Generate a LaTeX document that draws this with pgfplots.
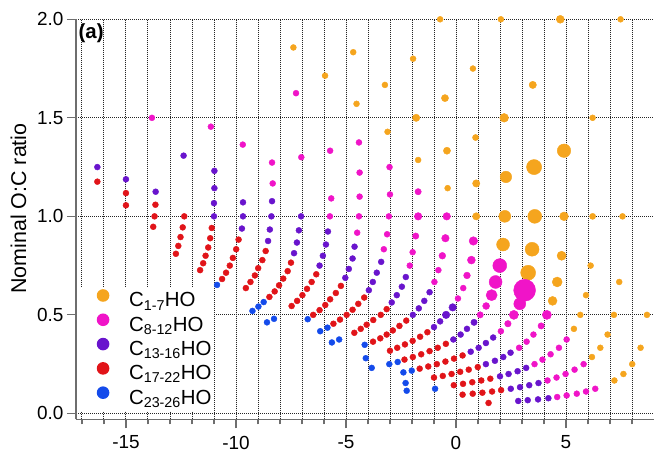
\documentclass[border=0pt]{standalone}
\usepackage{fontspec}
\setmainfont{Liberation Sans}
\usepackage{pgfplots}
\pgfplotsset{compat=1.18}
\definecolor{corange}{RGB}{245,165,30}
\definecolor{cmag}{RGB}{240,20,200}
\definecolor{cpur}{RGB}{105,20,205}
\definecolor{cred}{RGB}{225,20,25}
\definecolor{cblue}{RGB}{20,75,235}
\definecolor{axgray}{RGB}{110,110,110}
\pgfplotsset{
  dots/.style={only marks, mark=*, scatter,
    scatter/use mapped color={draw=#1,fill=#1},
    point meta=\thisrow{s},
    visualization depends on={\thisrow{s}\as\ms},
    scatter/@pre marker code/.append style={/tikz/mark size=\ms},
    forget plot},
}
\newcommand{\legdot}[1]{\addlegendimage{legend image code/.code={\path[draw=none,fill=none] (0bp,-6bp) rectangle (36bp,14bp); \fill[#1,draw=none] (25bp,7bp) circle (6.3bp);}}}
\begin{document}
\begin{tikzpicture}
\begin{axis}[
  name=ax,
  scale only axis, width=578bp, height=400bp,
  xmin=-17.27, xmax=9.0, ymin=-0.03, ymax=2.0,
  axis x line*=bottom, axis y line*=left,
  axis line style={draw=axgray, line width=1.3bp},
  xtick={-15,-10,-5,0,5}, xticklabels={-15,-10,-5,0,5},
  minor xtick={-17,-16,...,8},
  ytick={0,0.5,1,1.5,2}, yticklabels={0.0,0.5,1.0,1.5,2.0},
  tick align=outside, major tick length=9bp, minor tick length=5bp,
  every tick/.style={draw=axgray, line width=1.2bp},
  xmajorgrids, xminorgrids, ymajorgrids,
  major grid style={draw=black!85, line width=0.9bp, dash pattern=on 0.9bp off 1.1bp},
  minor grid style={draw=black!85, line width=0.9bp, dash pattern=on 0.9bp off 1.1bp},
  tick label style={font=\fontsize{19}{22}\selectfont, black},
  xticklabel style={yshift=-4bp},
  ylabel={Nominal O:C ratio},
  every axis y label/.style={at={([xshift=-57.5bp]rel axis cs:0,0.527)}, rotate=90, anchor=center, font=\fontsize{21.5}{24}\selectfont},
  clip=false,
  legend style={at={(axis cs:-17.23,0.64)}, anchor=north west, draw=none, fill=white,
    font=\fontsize{20.5}{24}\selectfont, inner sep=1bp, row sep=-0.2bp, column sep=15bp,
    nodes={inner sep=0bp, text height=15bp, text depth=6bp}},
  legend cell align=left,
]
\addplot[dots=corange] table {
x y s
8.68 0.5 3
8.39 0.333 3
8.01 0.25 3
7.61 0.2 3
7.2 0.167 3
7.48 2.0 3
7.57 1.0 3
7.42 0.667 3
7.18 0.5 3
6.89 0.4 3
6.56 0.333 3
6.18 0.286 3
6.21 1.5 3
6.21 1.0 3.1
6.12 0.75 3
5.91 0.6 3
5.65 0.5 3
5.36 0.429 3
4.74 2.0 4
4.91 1.333 6.8
4.91 1.0 4.4
4.8 0.8 4.6
4.6 0.667 5
4.39 0.571 4.5
3.49 1.667 3.7
3.55 1.25 7.6
3.58 1.0 7
3.46 0.833 7
3.28 0.714 7.5
2.04 2.0 3
2.19 1.5 4.4
2.27 1.2 5.8
2.22 1.0 6
2.14 0.857 6.5
0.77 1.75 3
0.89 1.4 3.1
0.92 1.167 3.7
0.92 1.0 3.7
-0.72 2.0 3
-0.5 1.6 3.6
-0.41 1.333 3.6
-0.38 1.143 3
-1.95 1.8 3
-1.81 1.5 3.7
-1.72 1.286 3
-3.23 1.667 3
-3.11 1.429 3
-4.67 1.833 3
-4.52 1.571 3
-5.95 1.714 3
-7.39 1.857 3
};
\addplot[dots=cmag] table {
x y s
6.33 0.125 3
5.91 0.111 3
5.49 0.1 3
5.03 0.091 3
4.6 0.083 3
5.8 0.25 3
5.39 0.222 3
4.98 0.2 3
4.57 0.182 3
4.16 0.167 3
5.03 0.375 3
4.68 0.333 3
4.3 0.3 3
3.93 0.273 3
3.57 0.25 3
4.13 0.5 4.6
3.87 0.444 3.2
3.52 0.4 3
3.21 0.364 3
2.87 0.333 3
3.12 0.625 11
2.9 0.556 6
2.63 0.5 4.6
2.36 0.455 3.3
2.04 0.417 3
1.99 0.75 7
1.8 0.667 6.5
1.62 0.6 5.6
1.37 0.545 3.5
1.1 0.5 3.2
0.79 0.875 4.3
0.7 0.778 4
0.5 0.7 3.4
0.33 0.636 3
0.09 0.583 3
-0.42 1.0 3.8
-0.48 0.889 3.8
-0.62 0.8 3.4
-0.8 0.727 3
-0.98 0.667 3
-1.72 1.125 3.2
-1.72 1.0 3.8
-1.83 0.9 3.2
-1.97 0.818 3
-2.1 0.75 3
-3.02 1.25 3
-3.0 1.111 3
-3.05 1.0 3
-3.13 0.909 3
-3.28 0.833 3
-4.41 1.375 3
-4.38 1.222 3
-4.38 1.1 3
-4.41 1.0 3
-4.49 0.917 3
-5.72 1.333 3
-5.67 1.091 3
-5.73 1.0 3
-7.27 1.625 3
-7.03 1.3 3
-8.36 1.273 3
-8.33 1.167 3
-9.69 1.364 3
-11.14 1.455 3
-13.82 1.5 3
};
\addplot[dots=cpur] table {
x y s
4.2 0.077 3
3.73 0.071 3
3.26 0.067 3
2.83 0.063 3
3.75 0.154 3
3.33 0.143 3
2.91 0.133 3
2.49 0.125 3
3.19 0.231 3
2.8 0.214 3
2.39 0.2 3
2.0 0.188 3
2.48 0.308 3
2.15 0.286 3
1.77 0.267 3
1.36 0.25 3
1.69 0.385 3
1.36 0.357 3
1.03 0.333 3
0.67 0.313 3
0.82 0.462 3.2
0.5 0.429 3
0.21 0.4 3
-0.12 0.375 3
-0.15 0.538 3.8
-0.45 0.5 3.8
-0.72 0.467 3
-1.0 0.438 3
-1.2 0.615 3
-1.44 0.571 3
-1.69 0.533 3
-1.96 0.5 3
-2.28 0.692 3
-2.46 0.643 3
-2.69 0.6 3
-2.92 0.563 3
-3.4 0.769 3
-3.6 0.714 3
-3.78 0.667 3
-3.96 0.625 3
-4.61 0.846 3
-4.7 0.786 3
-4.87 0.733 3
-5.03 0.688 3
-5.82 0.923 3
-5.91 0.857 3
-6.05 0.8 3
-6.2 0.75 3
-7.04 1.0 3
-7.14 0.929 3
-7.23 0.867 3
-7.36 0.813 3
-8.36 1.077 3
-8.39 1.0 3
-8.46 0.933 3
-8.54 0.875 3
-9.68 1.071 3
-9.68 1.0 3
-9.73 0.938 3
-10.98 1.231 3
-10.98 1.143 3
-11.0 1.067 3
-11.0 1.0 3
-12.38 1.308 3
-13.65 1.125 3
-15.0 1.188 3
-16.3 1.25 3
};
\addplot[dots=cred] table {
x y s
1.48 0.053 3
2.05 0.118 3
1.64 0.111 3
1.2 0.105 3
0.76 0.1 3
0.3 0.095 3
1.56 0.176 3
1.15 0.167 3
0.74 0.158 3
0.32 0.15 3
-0.1 0.143 3
0.99 0.235 3
0.58 0.222 3
0.19 0.211 3
-0.2 0.2 3
-0.6 0.19 3
-1.0 0.182 3
0.3 0.294 3
-0.09 0.278 3
-0.48 0.263 3
-0.87 0.25 3
-1.26 0.238 3
-1.65 0.227 3
-0.46 0.353 3
-0.83 0.333 3
-1.2 0.316 3
-1.58 0.3 3
-1.96 0.286 3
-2.34 0.273 3
-1.3 0.412 3
-1.63 0.389 3
-1.97 0.368 3
-2.32 0.35 3
-2.67 0.333 3
-3.0 0.318 3
-2.26 0.471 3
-2.57 0.444 3
-2.87 0.421 3
-3.15 0.4 3
-3.44 0.381 3
-3.77 0.364 3
-3.15 0.529 3
-3.42 0.5 3
-3.76 0.474 3
-4.06 0.45 3
-4.33 0.429 3
-4.62 0.409 3
-4.17 0.588 3
-4.44 0.556 3
-4.7 0.526 3
-4.97 0.5 3
-5.27 0.476 3
-5.57 0.455 3
-5.23 0.647 3
-5.46 0.611 3
-5.72 0.579 3
-5.94 0.55 3
-6.2 0.524 3
-6.49 0.5 3
-6.35 0.706 3
-6.56 0.667 3
-6.77 0.632 3
-6.98 0.6 3
-7.22 0.571 3
-7.47 0.545 3
-7.5 0.765 3
-7.65 0.722 3
-7.85 0.684 3
-8.04 0.65 3
-8.24 0.619 3
-8.48 0.591 3
-8.65 0.824 3
-8.8 0.778 3
-8.99 0.737 3
-9.14 0.7 3
-9.34 0.667 3
-9.55 0.636 3
-9.88 0.882 3
-9.99 0.833 3
-10.14 0.789 3
-10.28 0.75 3
-10.45 0.714 3
-10.63 0.682 3
-11.1 0.941 3
-11.17 0.889 3
-11.26 0.842 3
-11.38 0.8 3
-11.49 0.762 3
-11.63 0.727 3
-12.35 1.0 3
-12.42 0.944 3
-12.52 0.895 3
-12.62 0.85 3
-12.73 0.81 3
-13.66 1.059 3
-13.7 1.0 3
-13.76 0.947 3
-15.0 1.118 3
-15.0 1.056 3
-16.3 1.176 3
};
\addplot[dots=cblue] table {
x y s
-10.86 0.652 3
-9.25 0.52 3
-8.98 0.542 3
-8.74 0.565 3
-8.59 0.462 3
-8.27 0.48 3
-6.74 0.478 3
-6.17 0.417 3
-5.84 0.435 3
-5.64 0.36 3
-5.31 0.375 3
-4.15 0.348 3
-4.1 0.28 3
-3.83 0.231 3
-3.03 0.25 3
-2.65 0.261 3
-2.39 0.208 3
-2.01 0.217 3
-2.29 0.154 3
-2.24 0.115 3
-0.95 0.125 3
};
\legdot{corange}
\addlegendentry{C\textsubscript{1-7}HO}
\legdot{cmag}
\addlegendentry{C\textsubscript{8-12}HO}
\legdot{cpur}
\addlegendentry{C\textsubscript{13-16}HO}
\legdot{cred}
\addlegendentry{C\textsubscript{17-22}HO}
\legdot{cblue}
\addlegendentry{C\textsubscript{23-26}HO}
\node[anchor=north west, font=\fontsize{20.5}{24}\selectfont\bfseries, inner sep=0pt] at ([xshift=2.5bp,yshift=-4.5bp]rel axis cs:0,1) {(a)};
\end{axis}
\pgfresetboundingbox
\path[use as bounding box] ([xshift=-76bp,yshift=-39.8bp]ax.south west) rectangle ([yshift=19.3bp]ax.north east);
\end{tikzpicture}
\end{document}
